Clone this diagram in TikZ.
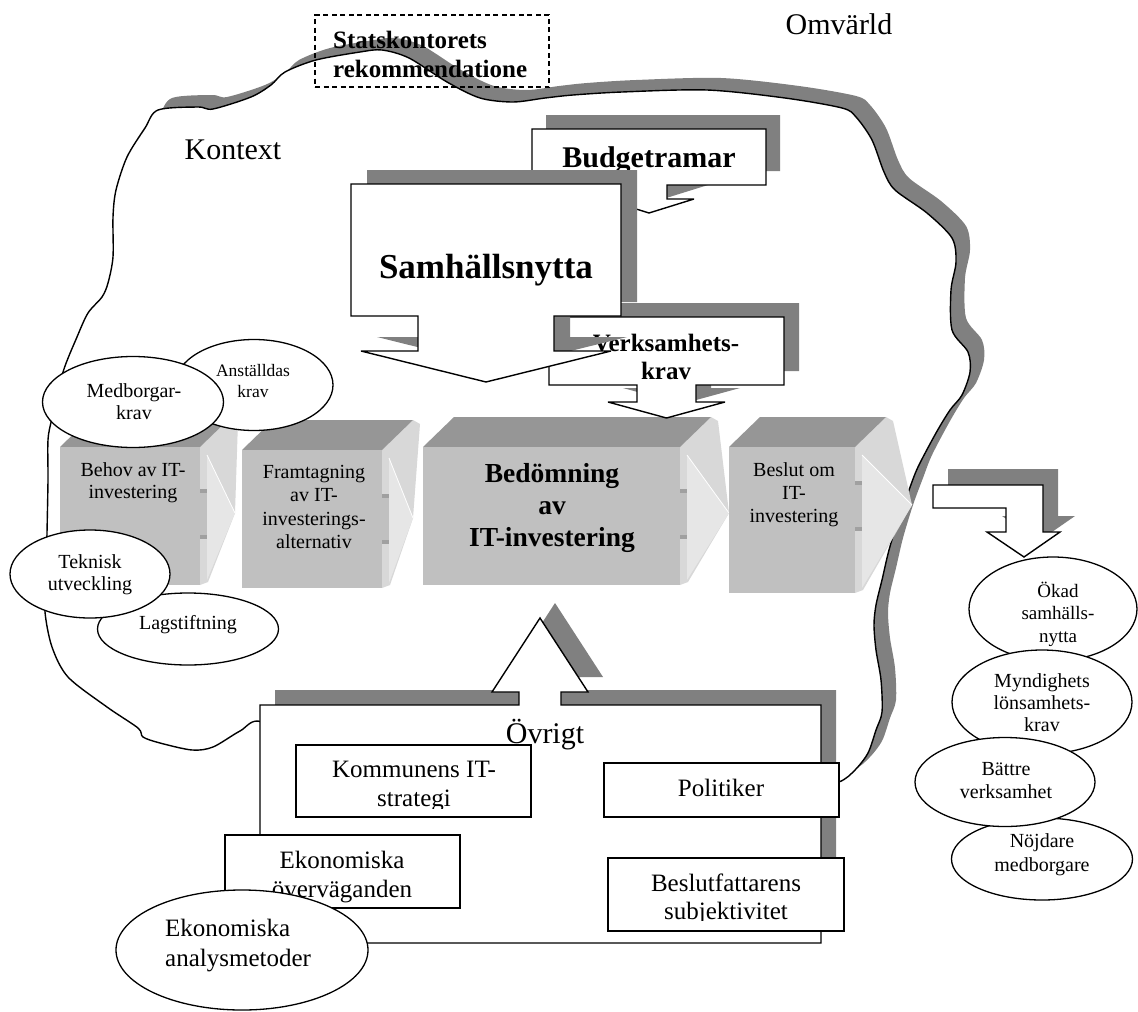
\documentclass[tikz,border=0pt]{standalone}
\usepackage{fontspec}
\setmainfont{Liberation Serif}
\usetikzlibrary{shapes.geometric}

\definecolor{shadowgray}{RGB}{128,128,128}
\definecolor{facefront}{RGB}{192,192,192}
\definecolor{facetop}{RGB}{150,150,150}
\definecolor{chevside}{RGB}{216,216,216}
\definecolor{chevfront}{RGB}{230,230,230}
\definecolor{notchgray}{RGB}{160,160,160}

% one 3D process step: front x-range #1..#2, y-range #3..#4, arrow tip (#5,#6)
\newcommand\stepblock[6]{%
  \fill[chevside] (#2,#3) -- (#2+31,#3-30) -- (#2+38,#3-26) -- (#5,#6) -- (#2+8,#4-3) -- (#2,#4) -- cycle;
  \fill[chevfront] (#2+7,#3+8) -- (#5,#6) -- (#2+7,#4-5) -- cycle;
  \draw[white, line width=0.8pt] (#2+7,#3+8) -- (#5,#6);
  \fill[facetop] (#1,#3) -- (#1+31,#3-30) -- (#2+31,#3-30) -- (#2,#3) -- cycle;
  \fill[facefront] (#1,#3) rectangle (#2,#4);
  \fill[facefront] (#2-1,#6-20) rectangle (#2+7,#6+22);
  \fill[notchgray] (#2,#6-24) rectangle (#2+7,#6-20);
  \fill[notchgray] (#2,#6+22) rectangle (#2+7,#6+26);
}

\begin{document}
\begin{tikzpicture}[x=1pt,y=-1pt,
  outline/.style={draw=black,line width=1.4pt,line join=miter,miter limit=4},
  whiteshape/.style={outline,fill=white},
  shadowfill/.style={fill=shadowgray},
  ell/.style={ellipse,draw=black,line width=1.3pt,fill=white,inner sep=0pt},
  rectbox/.style={rectangle,draw=black,line width=1.3pt,fill=white,inner sep=0pt},
  lbl/.style={inner sep=0pt,align=center,text=black},
  fnt/.style 2 args={font=\fontsize{#1}{#2}\selectfont},
  bfnt/.style 2 args={font=\fontsize{#1}{#2}\selectfont\bfseries},
  blobpath/.style={insert path={plot[smooth cycle,tension=0.5] coordinates {
    (158,110) (198,107) (213,109) (251,97) (271,85) (285,72) (316,60) (360,52)
    (382,50) (409,58) (447,82) (480,98) (513,102) (545,98) (573,95) (622,92)
    (707,90) (785,98) (842,108) (856,117) (872,140) (884,172) (895,190) (927,213)
    (952,238) (956,262) (951,290) (952,330) (968,352) (970,372) (962,395) (950,410)
    (936,433) (918,467) (909,490) (899,517) (889,550) (882,580) (876,605) (874,625)
    (876,650) (881,680) (882,712) (876,730) (868,753) (855,770) (839,782) (800,792)
    (600,792) (320,760) (262,722) (240,731) (213,747) (192,750) (160,743) (143,737)
    (138,728) (107,707) (68,677) (52,647) (45,612) (46,580) (47,533) (48,480)
    (48,440) (52,418) (63,372) (77,337) (88,313) (102,297) (108,283) (113,257)
    (113,217) (116,190) (127,157) (145,128)}}},
  budgetpath/.style={insert path={(532,129) -- (766,129) -- (766,185) -- (667,185) -- (667,199)
    -- (694,199) -- (649,213) -- (604,199) -- (631,199) -- (631,185) -- (532,185) -- cycle}},
  verkpath/.style={insert path={(549,317) -- (784,317) -- (784,385) -- (696,385) -- (696,402)
    -- (725,402) -- (666.5,418) -- (608,402) -- (637,402) -- (637,385) -- (549,385) -- cycle}},
  sampath/.style={insert path={(351,184) -- (621,184) -- (621,316) -- (554,316) -- (554,351)
    -- (611,351) -- (486,382) -- (361,351) -- (418,351) -- (418,316) -- (351,316) -- cycle}},
  ovrpath/.style={insert path={(260,705) -- (519,705) -- (519,692) -- (492,692) -- (540,618)
    -- (588,692) -- (561,692) -- (561,705) -- (821,705) -- (821,943) -- (260,943) -- cycle}},
  bentpath/.style={insert path={(933,485) -- (1043,485) -- (1043,532) -- (1060,532) -- (1024,557)
    -- (987,532) -- (1006,532) -- (1006,508) -- (933,508) -- cycle}}
]
\useasboundingbox (0,0) rectangle (1138,1012);

% context boundary with drop shadow
\fill[shadowfill, shift={(14,-12)}, blobpath];
\path[outline, fill=white, blobpath];

\node[lbl, fnt={30}{34}] (omv) at (839,24) {Omvärld};
\node[lbl, fnt={30}{34}] (kon) at (233,150) {Kontext};

% recommendation frame
\node[rectangle, draw=black, line width=1.1pt, dash pattern=on 5pt off 3.5pt,
      minimum width=234pt, minimum height=72pt, inner sep=0pt] (statbox) at (432,51) {};
\node[lbl, bfnt={25}{29}, align=left, anchor=west] (stat) at (333,54) {Statskontorets\\rekommendatione};

% process steps
\stepblock{60}{200}{447}{585}{235}{513}
\stepblock{242}{382}{450}{588}{413}{518}
\stepblock{423}{680}{447}{585}{729}{513}
\stepblock{729}{855}{447}{593}{912}{505}
\node[lbl, fnt={20}{22}] (b1) at (133,483) {Behov av IT-\\investering};
\node[lbl, fnt={20}{23.3}] (b2) at (314,507) {Framtagning\\av IT-\\investerings-\\alternativ};
\node[lbl, bfnt={27.5}{32}] (b3) at (552,508) {Bedömning\\av\\IT-investering};
\node[lbl, fnt={20}{23}] (b4) at (794,495) {Beslut om\\IT-\\investering};

% callouts above the process
\fill[shadowfill, shift={(14,-14)}, budgetpath];
\path[whiteshape, budgetpath];
\node[lbl, bfnt={30}{34}] (budget) at (649,160) {Budgetramar};

\fill[shadowfill, shift={(15,-14)}, verkpath];
\path[whiteshape, verkpath];
\node[lbl, bfnt={25}{28}] (verk) at (666,357) {Verksamhets-\\krav};

\fill[shadowfill, shift={(16,-14)}, sampath];
\path[whiteshape, sampath];
\node[lbl, bfnt={35}{40}] (sam) at (486,270) {Samhällsnytta};

% driving forces on the left
\node[ell, minimum width=158pt, minimum height=91pt] (anst) at (254,385) {};
\node[lbl, fnt={17.5}{21}] (anstt) at (253,381) {Anställdas\\krav};
\node[ell, minimum width=181pt, minimum height=91pt] (medb) at (133,402) {};
\node[lbl, fnt={20}{22}] (medbt) at (134,402) {Medborgar-\\krav};
\node[ell, minimum width=181pt, minimum height=72pt] (lag) at (188,629) {};
\node[lbl, fnt={20}{22}] (lagt) at (188,625) {Lagstiftning};
\node[ell, minimum width=160pt, minimum height=88pt] (tek) at (90,574) {};
\node[lbl, fnt={20}{22}] (tekt) at (90,575) {Teknisk\\utveckling};

% other influences
\fill[shadowfill, shift={(15,-15)}, ovrpath];
\path[whiteshape, ovrpath];
\node[lbl, fnt={30}{34}] (ovr) at (545,735) {Övrigt};

\node[rectbox, minimum width=235pt, minimum height=72pt] (komm) at (413.5,781) {};
\begin{scope}
  \clip (296,745) rectangle (531,808);
  \node[lbl, fnt={25}{29}] (kommt) at (414,787) {Kommunens IT-\\strategi};
\end{scope}
\node[rectbox, minimum width=235pt, minimum height=54pt] (pol) at (721.5,790) {};
\node[lbl, fnt={25}{29}] (polt) at (721,788) {Politiker};
\node[rectbox, minimum width=235pt, minimum height=73pt] (ekov) at (342.5,871.5) {};
\node[lbl, fnt={25}{29}] (ekovt) at (342,877) {Ekonomiska\\överväganden};
\node[rectbox, minimum width=236pt, minimum height=73pt] (besl) at (726,894.5) {};
\begin{scope}
  \clip (608,858) rectangle (844,920);
  \node[lbl, fnt={25}{28}] (beslt) at (726,899) {Beslutfattarens\\subjektivitet};
\end{scope}
\node[ell, minimum width=252pt, minimum height=120pt] (ekan) at (242,950) {};
\node[lbl, fnt={25}{30}, align=left, anchor=west] (ekant) at (165,946) {Ekonomiska\\analysmetoder};

% outcomes on the right
\fill[shadowfill, shift={(15,-16)}, bentpath];
\path[whiteshape, bentpath];

\node[ell, minimum width=168pt, minimum height=104pt] (okad) at (1053,609) {};
\node[lbl, fnt={19}{22.5}] (okadt) at (1058,614) {Ökad\\samhälls-\\nytta};
\node[ell, minimum width=180pt, minimum height=104pt] (mynd) at (1042,702) {};
\node[lbl, fnt={20}{22}] (myndt) at (1042,703) {Myndighets\\lönsamhets-\\krav};
\node[ell, minimum width=181pt, minimum height=82pt] (nojd) at (1042,859) {};
\node[lbl, fnt={20}{24}] (nojdt) at (1042,855) {Nöjdare\\medborgare};
\node[ell, minimum width=180pt, minimum height=89pt] (batt) at (1005,782) {};
\node[lbl, fnt={20}{23}] (battt) at (1006,781) {Bättre\\verksamhet};
\end{tikzpicture}
\end{document}
